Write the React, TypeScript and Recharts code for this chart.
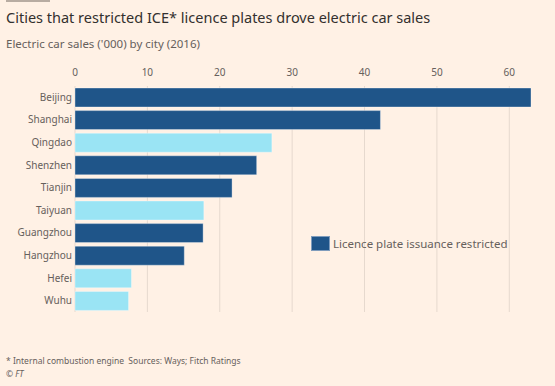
import { Bar, BarChart, CartesianGrid, Cell, Legend, XAxis, YAxis } from 'recharts'

const cities = ['Beijing', 'Shanghai', 'Qingdao', 'Shenzhen', 'Tianjin', 'Taiyuan', 'Guangzhou', 'Hangzhou', 'Hefei', 'Wuhu']
const sales = [63.0, 42.2, 27.2, 25.1, 21.7, 17.8, 17.7, 15.1, 7.8, 7.4]
const restricted = [true, true, false, true, true, false, true, true, false, false]
const ticks = [0, 10, 20, 30, 40, 50, 60]

const DARK = '#1f5589'
const LIGHT = '#9ae4f4'
const FONT = '"Noto Sans", sans-serif'

const data = cities.map((name, i) => ({ name, value: sales[i], restricted: restricted[i] }))

function LegendBox() {
    return (
        <div style={{ display: 'flex', alignItems: 'center', fontFamily: FONT, fontSize: 11.5, color: '#66605c', whiteSpace: 'nowrap' }}>
            <span style={{ width: 19, height: 15, background: DARK, border: '1px solid #7f9cbc', boxSizing: 'border-box', marginRight: 3 }} />
            Licence plate issuance restricted
        </div>
    )
}

export default function App() {
    return (
        <div style={{ position: 'absolute', left: 0, top: 0, width: 555, height: 386, background: '#fff1e5', overflow: 'hidden', fontFamily: FONT }}>
            <div style={{ position: 'absolute', left: 6, top: 0, width: 44, height: 2, background: '#b8aca2' }} />
            <div style={{ position: 'absolute', left: 6, top: 7, fontSize: 14.5, color: '#33302e', whiteSpace: 'nowrap' }}>
                Cities that restricted ICE* licence plates drove electric car sales
            </div>
            <div style={{ position: 'absolute', left: 6, top: 36, fontSize: 11.5, color: '#66605c', whiteSpace: 'nowrap' }}>
                Electric car sales ('000) by city (2016)
            </div>
            <div style={{ position: 'absolute', left: 0, top: 0 }}>
                <BarChart width={555} height={386} data={data} layout="vertical"
                    margin={{ top: 66, right: 24, bottom: 59, left: 0 }}>
                    <CartesianGrid horizontal={false} stroke="#e6d9ce" syncWithTicks />
                    <XAxis type="number" orientation="top" height={20} domain={[0, 'dataMax']}
                        ticks={ticks} axisLine={false} tickLine={false} tickMargin={4}
                        tick={{ fontSize: 10, fill: '#66605c', fontFamily: FONT }} />
                    <YAxis type="category" dataKey="name" width={75} axisLine={false} tickLine={false}
                        tickSize={0} tickMargin={3} interval={0}
                        tick={{ fontSize: 10, fill: '#66605c', fontFamily: FONT }} />
                    <Legend content={() => <LegendBox />}
                        wrapperStyle={{ position: 'absolute', left: 311, top: 236, width: 'auto', bottom: 'auto' }} />
                    <Bar dataKey="value" barSize={19} isAnimationActive={false} stroke="#ffffff" strokeOpacity={0.35}>
                        {data.map((entry, index) => (
                            <Cell key={`cell-${index}`} fill={entry.restricted ? DARK : LIGHT} />
                        ))}
                    </Bar>
                </BarChart>
            </div>
            <div style={{ position: 'absolute', left: 6, top: 355, fontSize: 8.5, color: '#66605c', whiteSpace: 'pre' }}>
                {'* Internal combustion engine  Sources: Ways; Fitch Ratings'}
            </div>
            <div style={{ position: 'absolute', left: 6, top: 368, fontSize: 8.5, color: '#66605c' }}>
                © <i>FT</i>
            </div>
        </div>
    )
}
